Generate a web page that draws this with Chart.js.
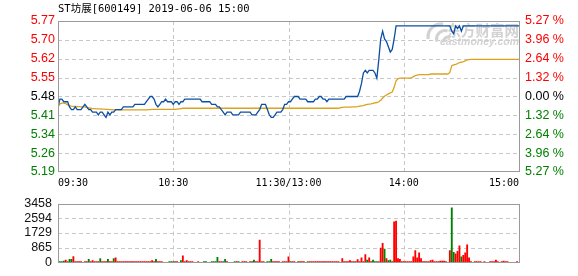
<!DOCTYPE html>
<html>
<head>
<meta charset="utf-8">
<script src="https://cdn.jsdelivr.net/npm/chart.js@4/dist/chart.umd.min.js"></script>
<style>
  html, body { margin: 0; padding: 0; background: #fff; }
  #wrap { position: relative; width: 578px; height: 276px; overflow: hidden; }
  #pbox { position: absolute; left: 0; top: 0; width: 578px; height: 190px; }
  #vbox { position: absolute; left: 0; top: 190px; width: 578px; height: 86px; }
</style>
</head>
<body>
<div id="wrap">
  <div id="pbox"><canvas id="price" width="578" height="190"></canvas></div>
  <div id="vbox"><canvas id="vol" width="578" height="86"></canvas></div>
</div>
<script>
// ---- data ----
const title = 'ST坊展[600149] 2019-06-06 15:00';
const prevClose = 5.48;
const priceLow = 5.1912;   // axis floor (prev close -5.27%)
const priceHigh = 5.7688;  // axis ceiling (prev close +5.27%)
const volumeMax = 3458;

// tick labels, listed bottom -> top
const priceTicks = ['5.19', '5.26', '5.34', '5.41', '5.48', '5.55', '5.62', '5.70', '5.77'];
const pctTicks = ['5.27 %', '3.96 %', '2.64 %', '1.32 %', '0.00 %', '1.32 %', '2.64 %', '3.96 %', '5.27 %'];
const volTicks = ['0', '865', '1729', '2594', '3458'];
const timeTicks = ['09:30', '10:30', '11:30/13:00', '14:00', '15:00'];
const tickMinutes = [0, 60, 120, 180, 240];

// minute-by-minute last price (241 minutes)
const price = [
  5.44,5.47,5.47,5.46,5.46,5.46,5.44,5.43,5.43,5.44,
  5.43,5.43,5.43,5.44,5.45,5.44,5.43,5.43,5.42,5.42,
  5.42,5.41,5.42,5.42,5.41,5.40,5.42,5.41,5.42,5.42,
  5.43,5.43,5.43,5.43,5.44,5.44,5.44,5.44,5.44,5.44,
  5.45,5.45,5.45,5.45,5.45,5.45,5.46,5.47,5.48,5.48,
  5.47,5.45,5.44,5.45,5.46,5.46,5.47,5.46,5.46,5.46,
  5.45,5.46,5.46,5.45,5.46,5.46,5.47,5.47,5.47,5.47,
  5.47,5.47,5.47,5.47,5.47,5.46,5.46,5.46,5.46,5.46,
  5.45,5.45,5.45,5.44,5.44,5.43,5.42,5.41,5.42,5.42,
  5.42,5.41,5.41,5.41,5.41,5.42,5.42,5.42,5.42,5.42,
  5.42,5.41,5.41,5.41,5.42,5.43,5.45,5.45,5.45,5.43,
  5.41,5.40,5.40,5.41,5.42,5.42,5.42,5.43,5.45,5.45,
  5.46,5.46,5.47,5.48,5.48,5.48,5.47,5.47,5.47,5.47,
  5.46,5.46,5.46,5.46,5.47,5.47,5.48,5.48,5.47,5.47,
  5.46,5.47,5.47,5.47,5.47,5.47,5.47,5.47,5.47,5.47,
  5.48,5.48,5.48,5.48,5.48,5.48,5.48,5.50,5.53,5.57,
  5.58,5.57,5.58,5.58,5.58,5.57,5.55,5.62,5.70,5.73,
  5.70,5.69,5.67,5.65,5.66,5.70,5.75,5.75,5.75,5.75,
  5.75,5.75,5.75,5.75,5.75,5.75,5.75,5.75,5.75,5.75,
  5.75,5.75,5.75,5.75,5.75,5.75,5.75,5.75,5.75,5.75,
  5.75,5.75,5.75,5.75,5.75,5.73,5.72,5.75,5.74,5.75,
  5.73,5.75,5.75,5.75,5.75,5.75,5.75,5.75,5.75,5.75,
  5.75,5.75,5.75,5.75,5.75,5.75,5.75,5.75,5.75,5.75,
  5.75,5.75,5.75,5.75,5.75,5.75,5.75,5.75,5.75,5.75,
  5.75
];

// running average price
const avgPrice = [
  5.440,5.452,5.455,5.455,5.453,5.448,5.445,5.443,5.442,5.442,
  5.441,5.441,5.440,5.440,5.440,5.437,5.436,5.435,5.434,5.434,
  5.433,5.433,5.433,5.432,5.432,5.431,5.431,5.430,5.430,5.429,
  5.429,5.429,5.429,5.429,5.429,5.429,5.429,5.429,5.429,5.429,
  5.429,5.429,5.429,5.429,5.429,5.429,5.429,5.430,5.430,5.431,
  5.431,5.431,5.431,5.431,5.431,5.431,5.431,5.431,5.431,5.431,
  5.431,5.431,5.432,5.433,5.434,5.435,5.435,5.435,5.435,5.435,
  5.435,5.435,5.435,5.435,5.435,5.435,5.435,5.435,5.435,5.435,
  5.435,5.435,5.435,5.435,5.435,5.435,5.435,5.435,5.435,5.435,
  5.435,5.435,5.435,5.435,5.435,5.435,5.435,5.435,5.435,5.435,
  5.435,5.435,5.435,5.435,5.435,5.435,5.435,5.435,5.435,5.435,
  5.435,5.435,5.435,5.435,5.435,5.435,5.435,5.435,5.435,5.435,
  5.435,5.435,5.435,5.435,5.435,5.435,5.435,5.435,5.435,5.435,
  5.435,5.435,5.435,5.435,5.435,5.435,5.435,5.435,5.435,5.435,
  5.435,5.435,5.435,5.435,5.435,5.435,5.435,5.437,5.438,5.439,
  5.439,5.439,5.439,5.440,5.440,5.440,5.441,5.443,5.444,5.445,
  5.448,5.450,5.451,5.452,5.454,5.456,5.457,5.460,5.466,5.474,
  5.481,5.486,5.490,5.494,5.497,5.515,5.540,5.548,5.550,5.550,
  5.550,5.550,5.550,5.550,5.551,5.556,5.560,5.562,5.564,5.564,
  5.564,5.564,5.564,5.564,5.566,5.566,5.566,5.566,5.566,5.566,
  5.566,5.566,5.566,5.566,5.572,5.598,5.601,5.603,5.606,5.610,
  5.611,5.613,5.616,5.620,5.621,5.622,5.622,5.622,5.622,5.622,
  5.622,5.622,5.622,5.622,5.622,5.622,5.622,5.622,5.622,5.622,
  5.622,5.622,5.622,5.622,5.622,5.622,5.622,5.622,5.622,5.622,
  5.622
];

// volume per minute (lots)
const volume = [
  60,60,60,90,140,60,190,190,340,50,
  50,50,50,0,50,50,190,50,110,50,
  50,50,230,50,50,50,190,50,50,230,
  280,50,50,50,50,50,50,50,50,50,
  50,50,50,50,50,50,50,50,50,110,
  50,190,50,50,50,0,0,0,50,50,
  50,50,50,0,110,390,50,110,50,50,
  50,0,0,50,0,0,50,50,0,0,
  50,50,50,300,50,50,50,190,50,0,
  0,0,50,50,50,0,50,50,50,0,
  50,50,140,50,50,1310,50,50,0,50,
  50,190,50,50,50,50,0,50,50,50,
  330,50,50,50,0,50,50,50,50,0,
  50,50,50,50,50,50,50,50,50,50,
  50,50,50,50,50,50,50,0,230,50,
  50,50,110,50,50,50,170,50,280,50,
  470,140,280,50,140,50,50,50,840,1120,
  790,230,110,140,50,2380,2430,230,190,50,
  50,50,50,50,50,330,700,280,560,230,
  50,50,50,50,110,140,50,50,50,90,
  90,90,50,0,700,3200,600,510,650,980,
  330,420,560,1030,280,50,0,50,50,50,
  50,0,50,0,0,50,50,50,140,50,
  0,50,90,50,50,0,0,0,0,50,0
];

// trade direction per minute: 1 = uptick, -1 = downtick
const side = [
  -1,-1,-1,-1,1,1,-1,-1,1,1,
  1,1,1,1,1,1,-1,1,1,1,
  1,1,-1,1,1,1,-1,1,1,-1,
  1,1,1,1,1,1,1,1,1,1,
  1,1,1,1,1,1,1,1,1,1,
  1,-1,1,1,1,1,1,1,-1,-1,
  1,-1,1,1,-1,1,1,1,1,1,
  1,1,1,1,1,1,-1,-1,1,1,
  -1,-1,-1,-1,1,1,-1,-1,1,1,
  1,1,-1,1,-1,1,1,1,1,1,
  1,-1,-1,1,1,1,1,1,1,-1,
  -1,-1,1,1,1,1,1,1,1,1,
  1,-1,1,1,1,-1,1,1,1,1,
  -1,1,1,1,1,1,1,1,1,1,
  1,1,1,1,1,1,1,1,1,1,
  1,1,1,1,1,1,1,1,1,1,
  1,-1,1,1,-1,-1,-1,1,1,1,
  -1,1,-1,-1,1,1,1,1,1,1,
  1,1,1,1,1,1,1,1,1,1,
  1,1,1,1,1,1,1,1,1,1,
  1,1,1,1,1,-1,-1,1,1,1,
  -1,1,1,1,1,1,1,1,1,1,
  1,1,1,1,1,1,1,1,1,1,
  1,1,1,1,1,1,1,1,1,1,1
];

// ---- styling ----
const UP = '#ff0000', DOWN = '#008000', FLAT = '#000000';
const GRID = '#c8c8c8';
const FRAME = '#9a9a9a';
const tickFont = { family: "'Liberation Sans', Arial, sans-serif", size: 12.5 };
const timeFont = { family: "'DejaVu Sans Mono', monospace", size: 10 };

Chart.defaults.animation = false;
Chart.defaults.responsive = false;

const evenTicks = (lo, hi, n) => scale => {
  const t = [];
  for (let k = 0; k < n; k++) t.push({ value: lo + (hi - lo) * k / (n - 1) });
  scale.ticks = t;
};
const levelColor = i => (i < 4 ? DOWN : i === 4 ? FLAT : UP);
const noGrid = { display: false, drawTicks: false };

// dashed grid taken from the scales' own tick positions
const gridPlugin = {
  id: 'dashGrid',
  beforeDatasetsDraw(chart) {
    const a = chart.chartArea, ctx = chart.ctx;
    const xs = chart.scales.x, ys = chart.scales.y;
    ctx.save();
    ctx.strokeStyle = GRID;
    ctx.lineWidth = 1;
    ctx.setLineDash([4, 3]);
    ys.ticks.forEach(t => {
      const y = Math.round(ys.getPixelForValue(t.value)) + 0.5;
      if (y <= a.top + 1 || y >= a.bottom - 1) return;
      ctx.beginPath(); ctx.moveTo(a.left, y); ctx.lineTo(a.right, y); ctx.stroke();
    });
    xs.ticks.forEach(t => {
      const x = Math.round(xs.getPixelForValue(t.value)) + 0.5;
      if (x <= a.left + 1 || x >= a.right - 1) return;
      ctx.beginPath(); ctx.moveTo(x, a.top); ctx.lineTo(x, a.bottom); ctx.stroke();
    });
    ctx.restore();
  }
};

// frame around the plot area
const framePlugin = {
  id: 'frame',
  afterDatasetsDraw(chart) {
    const a = chart.chartArea, ctx = chart.ctx;
    ctx.save();
    ctx.strokeStyle = FRAME;
    ctx.lineWidth = 1;
    const l = Math.round(a.left) + 0.5, t = Math.round(a.top) + 0.5;
    const r = Math.round(a.right) + 0.5, b = Math.round(a.bottom) - 0.5;
    ctx.strokeRect(l, t, r - l, b - t);
    ctx.restore();
  }
};

// heading text and site mark on the price panel
const headPlugin = {
  id: 'head',
  beforeDatasetsDraw(chart) {
    const a = chart.chartArea, ctx = chart.ctx;
    ctx.save();
    ctx.fillStyle = '#d2d2d2';
    ctx.strokeStyle = '#d2d2d2';
    // swirl
    ctx.lineWidth = 3.2;
    ctx.beginPath(); ctx.arc(441, 37, 13, Math.PI * 0.95, Math.PI * 1.55); ctx.stroke();
    ctx.beginPath(); ctx.arc(445, 39, 8.5, Math.PI * 0.9, Math.PI * 1.6); ctx.stroke();
    ctx.beginPath(); ctx.arc(448, 41, 4, Math.PI * 0.9, Math.PI * 1.7); ctx.stroke();
    ctx.textBaseline = 'middle';
    ctx.textAlign = 'right';
    ctx.font = "bold 14.5px 'Noto Sans CJK SC'";
    ctx.fillText('东方财富网', a.right, 30);
    ctx.font = "bold italic 10.5px 'Liberation Sans'";
    ctx.fillText('eastmoney.com', a.right, 42);
    ctx.restore();
  },
  afterDraw(chart) {
    const a = chart.chartArea, ctx = chart.ctx;
    ctx.save();
    ctx.fillStyle = '#000';
    ctx.textBaseline = 'middle';
    ctx.textAlign = 'left';
    ctx.font = "10.5px 'DejaVu Sans Mono', 'Noto Sans CJK SC'";
    ctx.fillText(title, a.left, 9);
    ctx.restore();
  }
};

// ---- price panel ----
new Chart(document.getElementById('price'), {
  type: 'line',
  data: {
    datasets: [
      {
        data: price.map((v, i) => ({ x: i, y: v })),
        borderColor: '#0b4fa3', borderWidth: 1.3, pointRadius: 0, tension: 0, order: 1
      },
      {
        data: avgPrice.map((v, i) => ({ x: i, y: v })),
        borderColor: '#dca21e', borderWidth: 1.3, pointRadius: 0, tension: 0, order: 2
      }
    ]
  },
  options: {
    layout: { padding: { top: 21, left: 0, right: 0, bottom: 0 } },
    plugins: { legend: { display: false }, tooltip: { enabled: false } },
    scales: {
      x: {
        type: 'linear', min: 0, max: 240,
        afterBuildTicks: s => { s.ticks = tickMinutes.map(v => ({ value: v })); },
        afterFit: s => { s.height = 18; },
        ticks: {
          callback: (v, i) => timeTicks[i], align: 'inner', autoSkip: false,
          maxRotation: 0, padding: 5, color: '#000', font: timeFont
        },
        grid: noGrid,
        border: { display: false }
      },
      y: {
        position: 'left', min: priceLow, max: priceHigh,
        afterBuildTicks: evenTicks(priceLow, priceHigh, 9),
        afterFit: s => { s.width = 58; },
        ticks: {
          callback: (v, i) => priceTicks[i], padding: 3, font: tickFont, autoSkip: false,
          color: c => levelColor(c.index)
        },
        grid: noGrid,
        border: { display: false }
      },
      y2: {
        position: 'right', min: priceLow, max: priceHigh,
        afterBuildTicks: evenTicks(priceLow, priceHigh, 9),
        afterFit: s => { s.width = 59; },
        ticks: {
          callback: (v, i) => pctTicks[i], padding: 6, font: tickFont, autoSkip: false,
          color: c => levelColor(c.index)
        },
        grid: noGrid,
        border: { display: false }
      }
    }
  },
  plugins: [gridPlugin, headPlugin, framePlugin]
});

// ---- volume panel ----
new Chart(document.getElementById('vol'), {
  type: 'bar',
  data: {
    datasets: [{
      data: volume.map((v, i) => ({ x: i, y: v })),
      backgroundColor: c => (side[c.dataIndex] > 0 ? UP : DOWN),
      barThickness: 1.2,
      grouped: false
    }]
  },
  options: {
    layout: { padding: { top: 6, left: 0, right: 59, bottom: 6 } },
    plugins: { legend: { display: false }, tooltip: { enabled: false } },
    scales: {
      x: {
        type: 'linear', min: 0, max: 240, offset: false,
        afterBuildTicks: s => { s.ticks = tickMinutes.map(v => ({ value: v })); },
        afterFit: s => { s.height = 0; },
        ticks: { display: false },
        grid: noGrid,
        border: { display: false }
      },
      y: {
        position: 'left', min: 0, max: volumeMax,
        afterBuildTicks: evenTicks(0, volumeMax, 5),
        afterFit: s => { s.width = 58; },
        ticks: { callback: (v, i) => volTicks[i], padding: 6, font: tickFont, color: '#111', autoSkip: false },
        grid: noGrid,
        border: { display: false }
      }
    }
  },
  plugins: [gridPlugin, framePlugin]
});
</script>
</body>
</html>
